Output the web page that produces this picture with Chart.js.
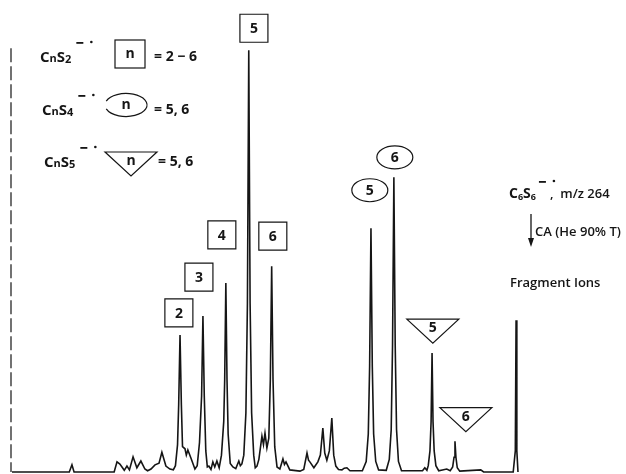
<!DOCTYPE html>
<html>
<head>
<meta charset="utf-8">
<script src="https://cdn.jsdelivr.net/npm/chart.js@4"></script>
<style>
html, body { margin: 0; background: #fff; }
#wrap { width: 626px; height: 474px; }
</style>
</head>
<body>
<div id="wrap"><canvas id="spectrum"></canvas></div>
<script>
// CA spectrum of C6S6-. (m/z 264), relative intensity (C5S2 = 100)
const mz = [0, 30, 31.4, 32.5, 53.5, 55, 56.5, 57.6, 58.8, 60.2, 61.5, 63.4, 65.4, 67.5, 69.6, 71, 72.8, 74.9, 77, 78.5, 80.6, 82.7, 84.5,
  85.6, 86.7, 87.3, 88, 88.7, 89.3,
  90.6, 91.3, 92.1, 93.7, 95.8, 97,
  98.2, 99.3, 100, 100.7, 101.5,
  102.3, 103.1, 104.2, 105.2, 106.2, 107.3, 108.5,
  109.7, 110.9, 111.4, 112, 112.6, 113.2,
  114.3, 115.7, 117.2, 118.8, 119.6, 120.4,
  121.4, 122.5, 123.3, 124, 124.7, 125.5, 126.6,
  127.4, 128.3, 129.3, 130.9, 131.7, 132.5, 133.5,
  134.5, 135.3, 136, 136.7, 137.6,
  138.8, 140.3, 141.9, 142.7, 143.5, 145.5, 150.8, 152.8, 154.5, 155.3, 156, 158.1, 160.2, 161.5, 162.8, 163.8, 164.9,
  166.2, 167.5, 168.5, 169.6, 171, 172.8, 174, 175.4, 177, 183.5,
  185.5, 186.6, 187.3, 188, 188.7, 189.4, 190.5, 192, 196,
  197.6, 198.6, 199.3, 200, 200.7, 201.4, 202.4, 204, 215, 216.2, 217.3,
  218, 218.9, 219.5, 220, 220.5, 221.1, 222, 223.5, 227.7, 229.5,
  230.8, 231.5, 232, 232.5, 233.2, 234.5, 245.5, 247, 262.5,
  263.6, 264, 264.4, 265];
const intensity = [0, 0, 1.7, 0, 0, 2.4, 1.9, 1.2, 0.4, 1.4, 0.5, 3.6, 1.0, 2.6, 0.7, 0.3, 0.7, 1.7, 2.1, 4.7, 1.4, 0.7, 0.5,
  1.5, 6.5, 16, 32.5, 16, 6,
  5.5, 4.0, 5.2, 3.3, 0.7, 1.5,
  7, 18, 37, 18, 5,
  1.2, 1.4, 0.6, 2.4, 1.2, 2.6, 1.0,
  4, 12, 22, 44.8, 22, 9,
  2, 1.2, 0.8, 2.6, 1.5, 1.9,
  4, 14, 40, 100, 40, 14, 4,
  1, 1.4, 3, 8.5, 6.5, 9.2, 5.7,
  8, 22, 48.8, 22, 6,
  1.2, 0.7, 3.1, 1.8, 2.4, 0.5, 0.2, 0.6, 4.5, 2.8, 2.4, 1.0, 2.4, 4, 10.4, 4.5, 2.8,
  5, 12.8, 4, 1.4, 0.6, 0.5, 0.9, 1.0, 0.3, 0.3,
  2.5, 9, 25, 57.8, 25, 9, 2.5, 0.5, 0.4,
  3, 10, 30, 69.9, 30, 10, 2.5, 0.3, 0.3, 1.0, 0.4,
  1.5, 5, 12, 28.2, 12, 5, 1.5, 0.3, 0.7, 0.3,
  1.2, 3.5, 7.3, 3.5, 1.0, 0.2, 0.5, 0, 0,
  5, 36, 5, 0];

// peak labels: n, marker shape, and where the marker sits (m/z, intensity level)
const labelText  = ['2', '3', '4', '5', '6', '5', '6', '5', '6'];
const labelShape = ['box', 'box', 'box', 'box', 'box', 'oval', 'oval', 'tri', 'tri'];
const labelMz    = [87.4, 97.9, 109.9, 126.7, 136.6, 187.4, 200.5, 220.4, 237.7];
const labelLevel = [37.7, 46.2, 56.2, 105.2, 55.9, 66.8, 74.6, 33.4, 12.4];

const FONT = '"Open Sans", "DejaVu Sans", sans-serif';
const INK = '#151515';

function drawMarker(ctx, shape, x, y) {
  ctx.beginPath();
  if (shape === 'box') {
    ctx.rect(x - 14, y - 14, 28, 28);
  } else if (shape === 'oval') {
    ctx.ellipse(x, y, 18, 11.5, 0, 0, Math.PI * 2);
  } else {
    ctx.moveTo(x - 26, y - 12);
    ctx.lineTo(x + 26, y - 12);
    ctx.lineTo(x, y + 12);
    ctx.closePath();
  }
  ctx.stroke();
}

// draw text pieces [text, size, dy] left to right
function drawParts(ctx, x, y, parts, weight) {
  ctx.textBaseline = 'alphabetic';
  ctx.textAlign = 'left';
  for (const [t, size, dy] of parts) {
    ctx.font = (weight || 'bold') + ' ' + size + 'px ' + FONT;
    ctx.fillText(t, x, y + dy);
    x += ctx.measureText(t).width;
  }
  return x;
}

// radical anion sign: bar and dot
function drawCharge(ctx, x, y) {
  ctx.fillRect(x, y, 7, 1.8);
  ctx.beginPath();
  ctx.arc(x + 15, y, 1.3, 0, Math.PI * 2);
  ctx.fill();
}

const annotations = {
  id: 'annotations',
  afterDatasetsDraw(chart) {
    const ctx = chart.ctx;
    const xs = chart.scales.x, ys = chart.scales.y;
    ctx.save();
    ctx.strokeStyle = INK;
    ctx.fillStyle = INK;
    ctx.lineWidth = 1.2;

    // dashed intensity axis
    ctx.setLineDash([14, 4]);
    ctx.beginPath();
    ctx.moveTo(xs.left - 1, ys.getPixelForValue(100) - 2);
    ctx.lineTo(xs.left - 1, ys.bottom);
    ctx.stroke();
    ctx.setLineDash([]);

    // peak markers
    labelText.forEach((t, i) => {
      const px = xs.getPixelForValue(labelMz[i]);
      const py = ys.getPixelForValue(labelLevel[i]);
      drawMarker(ctx, labelShape[i], px, py);
      ctx.font = 'bold 14px ' + FONT;
      ctx.textAlign = 'center';
      ctx.textBaseline = 'middle';
      ctx.fillText(t, px, labelShape[i] === 'tri' ? py - 3 : py + 1);
    });

    // legend, top left
    const rows = [
      { sub: '2', base: 62, shape: 'box', cx: 130, cy: 54, eq: '= 2 \u2212 6' },
      { sub: '4', base: 115, shape: 'oval', cx: 126, cy: 105, eq: '= 5, 6' },
      { sub: '5', base: 167, shape: 'tri', cx: 131, cy: 164, eq: '= 5, 6' }
    ];
    rows.forEach((r, k) => {
      const end = drawParts(ctx, 40 + k * 2, r.base, [['C', 15, 0], ['n', 11, 0], ['S', 15, 0], [r.sub, 11, 1]]);
      drawCharge(ctx, end + 5, r.base - 20);
      if (r.shape === 'box') {
        ctx.strokeRect(r.cx - 15, r.cy - 14, 30, 28);
      } else if (r.shape === 'oval') {
        ctx.beginPath();
        ctx.ellipse(r.cx, r.cy, 21, 11.5, 0, Math.PI + 0.35, Math.PI * 3 - 0.35);
        ctx.stroke();
      } else {
        drawMarker(ctx, 'tri', r.cx, r.cy);
      }
      ctx.font = 'bold 14px ' + FONT;
      ctx.textAlign = 'center';
      ctx.textBaseline = 'middle';
      ctx.fillText('n', r.cx, r.shape === 'tri' ? r.cy - 3 : r.cy);
      drawParts(ctx, r.shape === 'tri' ? 158 : 154, r.base - 1, [[r.eq, 14, 0]]);
    });

    // precursor note, right
    const e = drawParts(ctx, 509, 198, [['C', 14, 0], ['6', 9, 2], ['S', 14, 0], ['6', 9, 2]]);
    drawCharge(ctx, e + 3, 181);
    drawParts(ctx, 550, 198, [[',  m/z 264', 13, 0]], '600');
    ctx.lineWidth = 1.3;
    ctx.beginPath();
    ctx.moveTo(531, 214);
    ctx.lineTo(531, 242);
    ctx.stroke();
    ctx.beginPath();
    ctx.moveTo(528, 238);
    ctx.lineTo(531, 247);
    ctx.lineTo(534, 238);
    ctx.closePath();
    ctx.fill();
    drawParts(ctx, 535, 236, [['CA (He 90% T)', 13, 0]], '600');
    drawParts(ctx, 510, 287, [['Fragment Ions', 13, 0]], '600');
    ctx.restore();
  }
};

new Chart(document.getElementById('spectrum'), {
  type: 'line',
  data: {
    datasets: [{
      data: mz.map((m, i) => ({ x: m, y: intensity[i] })),
      borderColor: INK,
      borderWidth: 1.6,
      pointRadius: 0,
      tension: 0,
      fill: false,
      clip: false
    }]
  },
  options: {
    animation: false,
    responsive: true,
    maintainAspectRatio: false,
    layout: { padding: { left: 12, right: 3, top: 8, bottom: 2 } },
    scales: {
      x: { type: 'linear', min: 0, max: 320, display: false },
      y: { min: 0, max: 110, display: false }
    },
    plugins: { legend: { display: false }, tooltip: { enabled: false } }
  },
  plugins: [annotations]
});
</script>
</body>
</html>
